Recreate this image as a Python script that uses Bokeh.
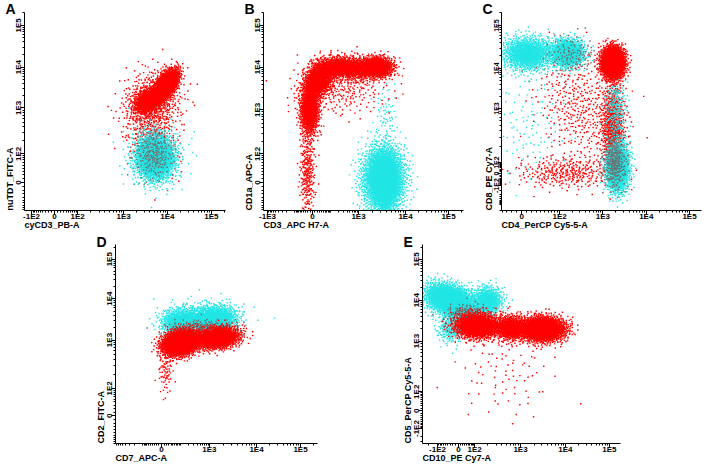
import numpy as np
from bokeh.plotting import figure
from bokeh.layouts import column, row
from bokeh.models import FixedTicker, Range1d, Spacer, ColumnDataSource, Title
from bokeh.embed import file_html
from bokeh.resources import INLINE

RED = "#ff0000"
CYAN = "#22e5e5"
GREY = "#6e6e6e"

# ---------------- axis calibration (labelled ticks, fraction of axis length) ----------------
A_X_TICKS = [-1e2, 0, 1e2, 1e3, 1e4, 1e5]
A_X_LABELS = ["-1E2", "0", "1E2", "1E3", "1E4", "1E5"]
A_X_POS = [0.035, 0.149, 0.264, 0.493, 0.711, 0.930]
A_Y_TICKS = [0, 1e2, 1e3, 1e4, 1e5]
A_Y_LABELS = ["0", "1E2", "1E3", "1E4", "1E5"]
A_Y_POS = [0.141, 0.286, 0.518, 0.724, 0.935]

B_X_TICKS = [-1e3, 0, 1e3, 1e4, 1e5]
B_X_LABELS = ["-1E3", "0", "1E3", "1E4", "1E5"]
B_X_POS = [0.020, 0.245, 0.475, 0.710, 0.925]
B_Y_TICKS = [0, 1e2, 1e3, 1e4, 1e5]
B_Y_LABELS = ["0", "1E2", "1E3", "1E4", "1E5"]
B_Y_POS = [0.141, 0.286, 0.508, 0.724, 0.935]

C_X_TICKS = [0, 1e2, 1e3, 1e4, 1e5]
C_X_LABELS = ["0", "1E2", "1E3", "1E4", "1E5"]
C_X_POS = [0.101, 0.291, 0.507, 0.724, 0.940]
C_Y_TICKS = [-1e2, 0, 1e2, 1e3, 1e4, 1e5]
C_Y_LABELS = ["-1E2", "0", "1E2", "1E3", "1E4", "1E5"]
C_Y_POS = [0.126, 0.187, 0.242, 0.515, 0.717, 0.934]

D_X_TICKS = [0, 1e3, 1e4, 1e5]
D_X_LABELS = ["0", "1E3", "1E4", "1E5"]
D_X_POS = [0.228, 0.465, 0.698, 0.916]
D_Y_TICKS = [0, 1e2, 1e3, 1e4, 1e5]
D_Y_LABELS = ["0", "1E2", "1E3", "1E4", "1E5"]
D_Y_POS = [0.139, 0.277, 0.520, 0.728, 0.926]

E_X_TICKS = [-1e2, 0, 1e2, 1e3, 1e4, 1e5]
E_X_LABELS = ["-1E2", "0", "1E2", "1E3", "1E4", "1E5"]
E_X_POS = [0.076, 0.182, 0.263, 0.495, 0.722, 0.944]
E_Y_TICKS = [-1e2, 0, 1e2, 1e3, 1e4, 1e5]
E_Y_LABELS = ["-1E2", "0", "1E2", "1E3", "1E4", "1E5"]
E_Y_POS = [0.075, 0.165, 0.260, 0.515, 0.720, 0.925]

# ---------------- event populations: centre (fluorescence), spread (decades), correlation, events ----------------
A_COLOR = [RED, RED, RED, RED, CYAN, CYAN, GREY]
A_CX = [9500, 3800, 4500, 5000, 5300, 5300, 5000]
A_CY = [3800, 1500, 1300, 150, 80, 90, 100]
A_SDX = [0.13, 0.16, 0.33, 0.28, 0.20, 0.34, 0.22]
A_SDY = [0.17, 0.15, 0.40, 0.40, 0.25, 0.42, 0.30]
A_RHO = [0.55, 0.30, 0.20, 0.0, 0.0, 0.0, 0.0]
A_N = [2000, 800, 750, 260, 2500, 300, 220]

B_COLOR = [CYAN, CYAN, CYAN, RED, RED, RED, RED, RED, RED, RED]
B_CX = [3400, 3800, 3800, 25, -12, -21, 233, 1000, 2540, 233]
B_CY = [10, 0, 800, 5000, 1000, 28, 10000, 9000, 10000, 3400]
B_SDX = [0.22, 0.12, 0.12, 0.15, 0.10, 0.08, 0.24, 0.20, 0.17, 0.50]
B_SDY = [0.38, 0.30, 0.35, 0.21, 0.28, 0.52, 0.12, 0.14, 0.12, 0.32]
B_RHO = [0.0, 0.0, 0.0, 0.3, 0.0, 0.0, 0.0, 0.0, 0.0, 0.0]
B_N = [2700, 1200, 60, 1200, 1100, 280, 900, 400, 950, 300]

C_COLOR = [RED, RED, RED, CYAN, CYAN, CYAN, CYAN, CYAN, GREY, GREY, RED]
C_CX = [310, 150, 1700, 12, 153, 2200, 2000, 12, 1900, 200, 1700]
C_CY = [1000, 7, 450, 22000, 23000, 44, 1000, 450, 100, 20000, 13800]
C_SDX = [0.51, 0.58, 0.13, 0.30, 0.19, 0.13, 0.13, 0.45, 0.13, 0.28, 0.13]
C_SDY = [0.70, 0.20, 0.58, 0.21, 0.17, 0.30, 0.45, 0.70, 0.33, 0.25, 0.19]
C_RHO = [-0.3, 0.0, 0.0, 0.0, 0.0, 0.0, 0.0, 0.0, 0.0, 0.0, 0.0]
C_N = [420, 330, 800, 1200, 1100, 1700, 220, 110, 280, 120, 2400]

D_COLOR = [CYAN, CYAN, CYAN, CYAN, GREY, RED, RED, RED]
D_CX = [100, 500, 1500, 700, 600, 102, 1480, 16]
D_CY = [2700, 3000, 3400, 3300, 1800, 872, 1120, 250]
D_SDX = [0.20, 0.25, 0.22, 0.45, 0.36, 0.19, 0.23, 0.08]
D_SDY = [0.16, 0.16, 0.15, 0.26, 0.11, 0.15, 0.13, 0.30]
D_RHO = [0.0, 0.0, 0.0, 0.0, 0.0, 0.2, 0.2, 0.0]
D_N = [800, 600, 800, 150, 280, 2300, 1500, 80]

E_COLOR = [CYAN, CYAN, CYAN, GREY, RED, RED, RED, RED]
E_CX = [-29, 196, -29, 50, 118, 613, 3080, 500]
E_CY = [10000, 9500, 1960, 4000, 2320, 2100, 1960, 265]
E_SDX = [0.28, 0.17, 0.15, 0.24, 0.25, 0.17, 0.25, 0.55]
E_SDY = [0.20, 0.18, 0.18, 0.14, 0.15, 0.15, 0.15, 0.60]
E_RHO = [-0.35, 0.0, 0.0, 0.0, 0.0, 0.0, 0.0, 0.0]
E_N = [2300, 650, 220, 280, 1600, 750, 2200, 90]

FONT = "Liberation Sans"


def make_axis(ticks, fracs, lin=50.0):
    """Logicle-style axis: interpolate in arcsinh space between calibrated ticks."""
    gt = np.arcsinh(np.asarray(ticks, float) / lin)
    fr = np.asarray(fracs, float)
    lo_slope = (fr[1] - fr[0]) / (gt[1] - gt[0])
    hi_slope = (fr[-1] - fr[-2]) / (gt[-1] - gt[-2])

    def to_axis(v):
        g = np.arcsinh(np.asarray(v, float) / lin)
        out = np.interp(g, gt, fr)
        out = np.where(g < gt[0], fr[0] + (g - gt[0]) * lo_slope, out)
        out = np.where(g > gt[-1], fr[-1] + (g - gt[-1]) * hi_slope, out)
        return out

    return to_axis


def halton(idx, base):
    i = idx.astype(np.int64).copy()
    f = np.ones(len(i))
    r = np.zeros(len(i))
    while (i > 0).any():
        f = f / base
        r = r + f * (i % base)
        i = i // base
    return r


def events(colors, cx, cy, sdx, sdy, rho, counts, fx, fy, start):
    dec_x = float(fx(1e4) - fx(1e3))
    dec_y = float(fy(1e4) - fy(1e3))
    xs, ys, cs = [], [], []
    i0 = start
    for k in range(len(counts)):
        idx = np.arange(i0, i0 + counts[k])
        i0 += counts[k]
        u1 = halton(idx, 2)
        u2 = halton(idx, 3)
        r = np.minimum(np.sqrt(-2.0 * np.log(u1)), 3.3)
        z1 = r * np.cos(2 * np.pi * u2)
        z2 = r * np.sin(2 * np.pi * u2)
        zy = rho[k] * z1 + np.sqrt(1 - rho[k] ** 2) * z2
        xs.append(fx(cx[k]) + z1 * sdx[k] * dec_x)
        ys.append(fy(cy[k]) + zy * sdy[k] * dec_y)
        cs += [colors[k]] * counts[k]
    return np.concatenate(xs), np.concatenate(ys), cs


MINOR_CANDIDATES = sorted({s * m * 10.0 ** k for s in (-1, 1) for k in range(1, 6) for m in range(1, 10)})


def style_axis(ax, ticks, labels, to_axis, vertical, label_size="8px"):
    pos = [round(float(t), 5) for t in to_axis(ticks)]
    minors = []
    for v in MINOR_CANDIDATES:
        if v in ticks:
            continue
        q = float(to_axis(v))
        if 0.0 <= q <= 1.0:
            minors.append(round(q, 5))
    ax.ticker = FixedTicker(ticks=pos, minor_ticks=minors)
    ax.major_label_overrides = {p: l for p, l in zip(pos, labels)}
    ax.axis_line_color = "black"
    ax.major_tick_line_color = "black"
    ax.minor_tick_line_color = "black"
    ax.major_tick_in = 0
    ax.major_tick_out = 4
    ax.minor_tick_in = 0
    ax.minor_tick_out = 2
    ax.major_label_text_font = FONT
    ax.major_label_text_font_size = label_size
    ax.major_label_text_font_style = "bold"
    ax.major_label_text_color = "black"
    ax.major_label_standoff = -3
    if vertical:
        ax.major_label_orientation = "vertical"


def panel(letter, xt, xl, xp, yt, yl, yp, xlabel, ylabel, comps, start,
          width, height, left, right, top, bottom, title_standoff, ylab_size="8px"):
    fx = make_axis(xt, xp)
    fy = make_axis(yt, yp)
    x, y, c = events(*comps, fx, fy, start)
    p = figure(width=width, height=height, x_range=Range1d(0, 1), y_range=Range1d(0, 1),
               output_backend="svg", toolbar_location=None,
               min_border_left=left, min_border_right=right,
               min_border_top=top, min_border_bottom=bottom)
    p.grid.visible = False
    p.outline_line_color = None
    p.background_fill_color = "white"
    p.border_fill_color = "white"
    src = ColumnDataSource(dict(x=x, y=y, c=c))
    p.scatter("x", "y", source=src, marker="square", size=1.45,
              fill_color="c", line_color=None)
    style_axis(p.xaxis[0], xt, xl, fx, False)
    style_axis(p.yaxis[0], yt, yl, fy, True, ylab_size)

    # channel names, left-aligned at the start of each axis
    xt_title = Title(text=xlabel, align="left", vertical_align="top", offset=0, standoff=-7,
                     text_font=FONT, text_font_size="9px", text_font_style="bold",
                     text_color="black")
    yt_title = Title(text=ylabel, align="left", vertical_align="bottom", offset=0, standoff=-7,
                     text_font=FONT, text_font_size="9px", text_font_style="bold",
                     text_color="black")
    p.add_layout(xt_title, "below")
    p.add_layout(yt_title, "left")

    # panel letter in the title slot, pulled to the left of the y axis
    p.title.text = letter
    p.title.align = "left"
    p.title.vertical_align = "top"
    p.title.offset = -19
    p.title.standoff = title_standoff
    p.title.text_font = FONT
    p.title.text_font_size = "14px"
    p.title.text_font_style = "bold"
    p.title.text_color = "black"
    return p


pA = panel("A", A_X_TICKS, A_X_LABELS, A_X_POS, A_Y_TICKS, A_Y_LABELS, A_Y_POS,
           "cyCD3_PB-A", "nuTDT_FITC-A",
           (A_COLOR, A_CX, A_CY, A_SDX, A_SDY, A_RHO, A_N), 17,
           240, 235, 24, 15, 12, 24, -12)
pB = panel("B", B_X_TICKS, B_X_LABELS, B_X_POS, B_Y_TICKS, B_Y_LABELS, B_Y_POS,
           "CD3_APC H7-A", "CD1a_APC-A",
           (B_COLOR, B_CX, B_CY, B_SDX, B_SDY, B_RHO, B_N), 20011,
           238, 235, 23, 15, 12, 24, -12)
pC = panel("C", C_X_TICKS, C_X_LABELS, C_X_POS, C_Y_TICKS, C_Y_LABELS, C_Y_POS,
           "CD4_PerCP Cy5-5-A", "CD8_PE Cy7-A",
           (C_COLOR, C_CX, C_CY, C_SDX, C_SDY, C_RHO, C_N), 40003,
           231, 235, 23, 8, 12, 25, -12, "7px")
pD = panel("D", D_X_TICKS, D_X_LABELS, D_X_POS, D_Y_TICKS, D_Y_LABELS, D_Y_POS,
           "CD7_APC-A", "CD2_FITC-A",
           (D_COLOR, D_CX, D_CY, D_SDX, D_SDY, D_RHO, D_N), 60007,
           250, 235, 25, 23, 9, 25, -14)
pE = panel("E", E_X_TICKS, E_X_LABELS, E_X_POS, E_Y_TICKS, E_Y_LABELS, E_Y_POS,
           "CD10_PE Cy7-A", "CD5_PerCP Cy5-5-A",
           (E_COLOR, E_CX, E_CY, E_SDX, E_SDY, E_RHO, E_N), 80021,
           243, 235, 25, 20, 9, 27, -14)

layout = column(
    row(pA, pB, pC),
    row(Spacer(width=90, height=235), pD, Spacer(width=57, height=235), pE),
)

open("out.html", "w").write(file_html(layout, INLINE))
